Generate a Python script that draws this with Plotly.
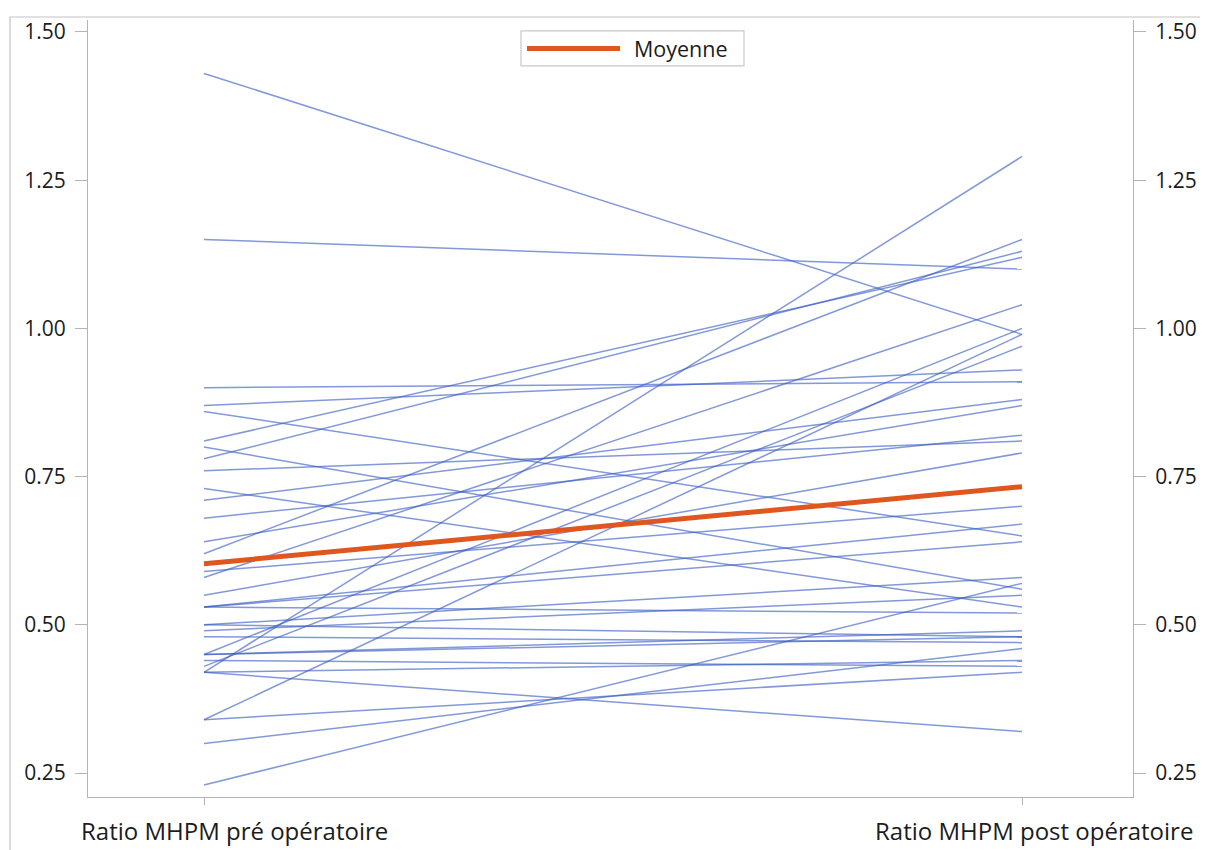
import plotly.graph_objects as go

# ---- data ----
categories = ["Ratio MHPM pré opératoire", "Ratio MHPM post opératoire"]

pre_values = [1.43, 1.15, 0.90, 0.87, 0.86, 0.81, 0.80, 0.78, 0.76, 0.73, 0.71, 0.68,
              0.64, 0.62, 0.59, 0.58, 0.55, 0.53, 0.53, 0.53, 0.50, 0.50, 0.49, 0.48,
              0.45, 0.42, 0.34, 0.43, 0.23, 0.30, 0.34, 0.42, 0.45, 0.45, 0.44, 0.42]
post_values = [0.99, 1.10, 0.91, 0.93, 0.65, 1.12, 0.56, 1.13, 0.81, 0.53, 0.88, 0.82,
               0.87, 1.15, 0.70, 1.04, 0.79, 0.67, 0.64, 0.52, 0.58, 0.48, 0.55, 0.47,
               1.00, 1.29, 0.99, 0.97, 0.57, 0.46, 0.42, 0.32, 0.49, 0.48, 0.43, 0.44]
mean_values = [0.603, 0.733]
mean_label = "Moyenne"

y_ticks = [0.25, 0.50, 0.75, 1.00, 1.25, 1.50]
y_tick_text = ["0.25", "0.50", "0.75", "1.00", "1.25", "1.50"]

# ---- styling ----
BLUE = "rgba(60,94,196,0.64)"
ORANGE = "#E0561F"
AXIS = "#b4b4b4"
FONT = "Open Sans"
TXT = "#1c1c1c"

# the page body adds an 8 px margin, so figure pixel = reference pixel - 8
OFF = 8
W, H = 1208 - OFF, 850 - OFF
L, R, T, B = 88 - OFF, 1133 - OFF, 17 - OFF, 797 - OFF
xpos = [0, 1]
x_range = [-(204 - 88) / 818, 1 + (1133 - 1022) / 818]
y_range = [0.25 - (797 - 773) / 595.2, 1.5 + (29 - 17) / 595.2]

fig = go.Figure()
for a, b in zip(pre_values, post_values):
    fig.add_trace(go.Scatter(x=xpos, y=[a, b], mode="lines",
                             line=dict(color=BLUE, width=1.5),
                             showlegend=False, hoverinfo="skip"))
fig.add_trace(go.Scatter(x=xpos, y=mean_values, mode="lines",
                         line=dict(color=ORANGE, width=5),
                         name=mean_label, showlegend=False))
# invisible trace to carry the right-hand axis
fig.add_trace(go.Scatter(x=xpos, y=mean_values, yaxis="y2", mode="lines",
                         line=dict(color="rgba(0,0,0,0)", width=0),
                         showlegend=False, hoverinfo="skip"))

def px2paper_x(px):  # px in reference picture coordinates
    return (px - OFF - L) / (R - L)

def px2paper_y(py):
    return (B - (py - OFF)) / (B - T)

shapes = [
    # outer frame
    dict(type="rect", xref="paper", yref="paper",
         x0=px2paper_x(10), x1=px2paper_x(1230), y0=px2paper_y(880), y1=px2paper_y(14),
         line=dict(color="#c4c4c4", width=1.2), fillcolor="rgba(0,0,0,0)", layer="below"),
    # legend box
    dict(type="rect", xref="paper", yref="paper",
         x0=px2paper_x(521), x1=px2paper_x(744), y0=px2paper_y(63), y1=px2paper_y(28),
         line=dict(color="#c8c8c8", width=1.2), fillcolor="white"),
    dict(type="line", xref="paper", yref="paper",
         x0=px2paper_x(527), x1=px2paper_x(620), y0=px2paper_y(45.5), y1=px2paper_y(45.5),
         line=dict(color=ORANGE, width=5)),
]

annotations = [
    dict(text=mean_label, xref="paper", yref="paper", x=px2paper_x(632), y=px2paper_y(45.5),
         xanchor="left", yanchor="middle", showarrow=False,
         font=dict(family=FONT, size=21.5, color=TXT)),
    dict(text=categories[0], xref="paper", yref="paper", x=px2paper_x(234), y=px2paper_y(831),
         xanchor="center", yanchor="middle", showarrow=False,
         font=dict(family=FONT, size=24, color=TXT)),
    dict(text=categories[1], xref="paper", yref="paper", x=px2paper_x(1034), y=px2paper_y(831),
         xanchor="center", yanchor="middle", showarrow=False,
         font=dict(family=FONT, size=24, color=TXT)),
]

yax = dict(range=y_range, tickvals=y_ticks, ticktext=y_tick_text,
           ticks="outside", ticklen=12, tickcolor=AXIS, tickwidth=1.2,
           showline=True, linecolor=AXIS, linewidth=1.2,
           showgrid=False, zeroline=False, ticklabelstandoff=5,
           tickfont=dict(family=FONT, size=21, color=TXT))

fig.update_layout(
    width=W, height=H,
    margin=dict(l=L, r=W - R, t=T, b=H - B),
    paper_bgcolor="white", plot_bgcolor="white",
    showlegend=False,
    xaxis=dict(range=x_range, tickvals=xpos, ticktext=["", ""],
               ticks="outside", ticklen=7, tickcolor=AXIS, tickwidth=1.2,
               showline=True, linecolor=AXIS, linewidth=1.2,
               showgrid=False, zeroline=False),
    yaxis=dict(**yax, side="left"),
    yaxis2=dict(**yax, side="right", overlaying="y"),
    shapes=shapes,
    annotations=annotations,
)

fig.write_html("out.html")
